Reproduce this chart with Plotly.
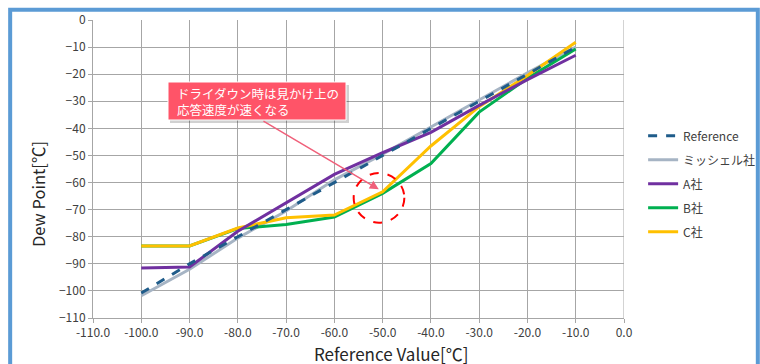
import plotly.graph_objects as go

x_vals = [-100, -90, -80, -70, -60, -50, -40, -30, -20, -10]
reference = [-100.8, -90, -80, -70, -60, -50, -40, -30, -20, -10]
mitchell = [-101.8, -92, -80.5, -70.5, -59, -49.5, -39.5, -29.5, -19.5, -10]
company_a = [-91.5, -91.2, -78, -67.5, -57, -49, -41.5, -31.5, -22, -13]
company_b = [-83.4, -83.4, -77, -75.5, -72.7, -64, -53, -34, -21.5, -10.7]
company_c = [-83.4, -83.4, -76.8, -73, -72, -63.4, -46.5, -32, -20.5, -8.2]

series = [
    ("Reference", reference, "#1F5C8A", "dash"),
    ("ミッシェル社", mitchell, "#A6B4C4", "solid"),
    ("A社", company_a, "#7030A0", "solid"),
    ("B社", company_b, "#00B050", "solid"),
    ("C社", company_c, "#FFC000", "solid"),
]

x_ticks = [-110, -100, -90, -80, -70, -60, -50, -40, -30, -20, -10, 0]
x_tick_labels = [f"{v:.1f}" for v in x_ticks]
y_ticks = list(range(-110, 1, 10))
x_title = "Reference Value[℃]"
y_title = "Dew Point[℃]"

fig = go.Figure()
order = [1, 3, 4, 2, 0]
for i in order:
    name, ys, color, dash = series[i]
    fig.add_trace(go.Scatter(
        x=x_vals, y=ys, mode="lines", name=name,
        line=dict(color=color, width=3, dash="dash" if dash == "dash" else None),
        legendrank=i, legendgroup=name,
    ))

font_family = "Noto Sans CJK JP, Noto Sans, sans-serif"

fig.update_layout(
    width=760, height=364,
    margin=dict(l=93, r=136, t=20, b=46, autoexpand=False),
    paper_bgcolor="white", plot_bgcolor="white",
    font=dict(family=font_family, size=12, color="#404040"),
    showlegend=True,
    legend=dict(x=1.036, y=0.66, xanchor="left", yanchor="top",
                font=dict(size=12, color="#404040"), tracegroupgap=5,
                itemwidth=30, bgcolor="rgba(0,0,0,0)"),
    xaxis=dict(range=[-110, 0], tickvals=x_ticks, ticktext=x_tick_labels,
               showgrid=True, gridcolor="#A6A6A6", gridwidth=1,
               showline=True, linecolor="#A6A6A6", linewidth=1,
               ticks="outside", ticklen=4, tickcolor="#A6A6A6", automargin=False,
               zeroline=False, tickfont=dict(size=12, color="#404040")),
    yaxis=dict(range=[-110, 0], tickvals=y_ticks,
               showgrid=True, gridcolor="#A6A6A6", gridwidth=1,
               showline=True, linecolor="#A6A6A6", linewidth=1,
               ticks="outside", ticklen=4, tickcolor="#A6A6A6", automargin=False,
               zeroline=False, tickfont=dict(size=12, color="#404040")),
)

# axis titles
fig.add_annotation(xref="paper", yref="paper", x=(391 - 93) / 531, y=(318 - 353) / 298,
                   text=x_title, showarrow=False, xanchor="center", yanchor="middle",
                   font=dict(size=17, color="#262626", family=font_family))
fig.add_annotation(xref="paper", yref="paper", x=(38 - 93) / 531, y=(318 - 194) / 298,
                   text=y_title, showarrow=False, xanchor="center", yanchor="middle",
                   textangle=-90, font=dict(size=16.5, color="#262626", family=font_family))

# outer blue frame
fig.add_shape(type="rect", xref="paper", yref="paper",
              x0=-0.156, x1=1.252, y0=-0.3, y1=1.034,
              line=dict(color="#5B9BD5", width=4), layer="above")
fig.add_shape(type="line", xref="x", yref="y", x0=0, x1=0, y0=-110, y1=0,
              line=dict(color="#A6A6A6", width=1), layer="below")

# dashed red circle
fig.add_shape(type="circle", xref="x", yref="y",
              x0=-56, x1=-45.5, y0=-74.8, y1=-56.5,
              line=dict(color="#FF0000", width=2, dash="dash"))

# callout shadow
fig.add_shape(type="rect", xref="paper", yref="paper",
              x0=(168 - 93 + 2) / 531, x1=(346 - 93 + 3) / 531,
              y0=(318 - 123) / 298, y1=(318 - 85) / 298,
              fillcolor="rgba(0,0,0,0.18)", line=dict(width=0), layer="above")
fig.add_shape(type="rect", xref="paper", yref="paper",
              x0=(168 - 93) / 531, x1=(346 - 93) / 531,
              y0=(318 - 120) / 298, y1=(318 - 82) / 298,
              fillcolor="#FF5468", line=dict(color="#FFFFFF", width=1), layer="above")
fig.add_annotation(xref="paper", yref="paper",
                   x=(175 - 93) / 531, y=(318 - 101) / 298,
                   xanchor="left", yanchor="middle", align="left",
                   text="ドライダウン時は見かけ上の<br>応答速度が速くなる",
                   showarrow=False, font=dict(size=12.5, color="white", family=font_family))
fig.add_annotation(x=-50.8, y=-62.5, ax=-75, ay=-37, xref="x", yref="y", axref="x", ayref="y",
                   text="", showarrow=True, arrowhead=2, arrowsize=1.2, arrowwidth=1.5,
                   arrowcolor="#F0607A")

fig.write_html("out.html", config={"displayModeBar": False},
               post_script="document.body.style.margin='0';document.body.style.overflow='hidden';")
